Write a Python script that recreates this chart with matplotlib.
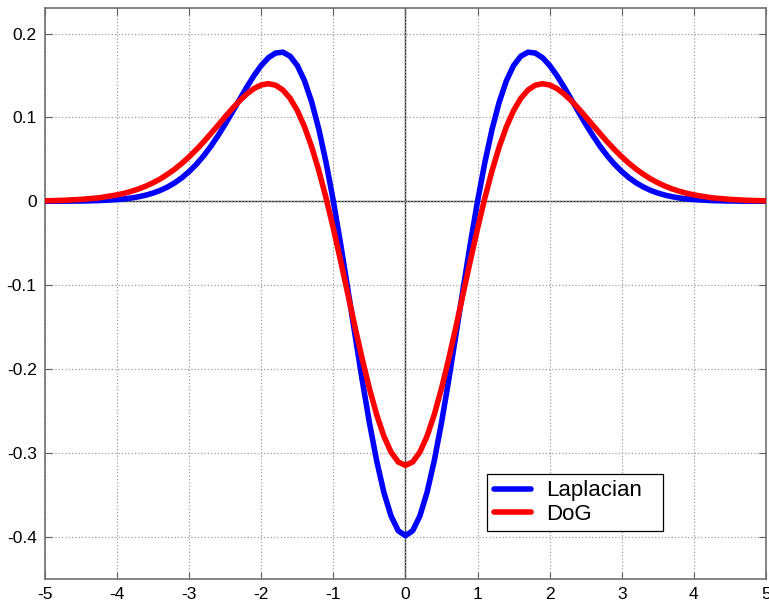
import matplotlib.pyplot as plt

# sample positions and curve values
x = [-5.0, -4.75, -4.5, -4.25, -4.0, -3.9, -3.8, -3.7, -3.6, -3.5, -3.4, -3.3,
     -3.2, -3.1, -3.0, -2.9, -2.8, -2.7, -2.6, -2.5, -2.4, -2.3, -2.2, -2.1,
     -2.0, -1.9, -1.8, -1.7, -1.6, -1.5, -1.4, -1.3, -1.2, -1.1, -1.0, -0.9,
     -0.8, -0.7, -0.6, -0.5, -0.4, -0.3, -0.2, -0.1, 0.0,
     0.1, 0.2, 0.3, 0.4, 0.5, 0.6, 0.7, 0.8, 0.9, 1.0, 1.1, 1.2, 1.3, 1.4,
     1.5, 1.6, 1.7, 1.8, 1.9, 2.0, 2.1, 2.2, 2.3, 2.4, 2.5, 2.6, 2.7, 2.8,
     2.9, 3.0, 3.1, 3.2, 3.3, 3.4, 3.5, 3.6, 3.7, 3.8, 3.9, 4.0, 4.25, 4.5,
     4.75, 5.0]

laplacian = [0.0000, 0.0001, 0.0003, 0.0008, 0.0020, 0.0028, 0.0039, 0.0054,
             0.0073, 0.0098, 0.0130, 0.0170, 0.0220, 0.0281, 0.0355, 0.0441,
             0.0541, 0.0655, 0.0782, 0.0920, 0.1066, 0.1215, 0.1362, 0.1500,
             0.1620, 0.1713, 0.1768, 0.1778, 0.1730, 0.1619, 0.1437, 0.1182,
             0.0854, 0.0457, 0.0000, -0.0506, -0.1043, -0.1592, -0.2133,
             -0.2641, -0.3093, -0.3471, -0.3754, -0.3930, -0.3989,
             -0.3930, -0.3754, -0.3471, -0.3093, -0.2641, -0.2133, -0.1592,
             -0.1043, -0.0506, 0.0000, 0.0457, 0.0854, 0.1182, 0.1437, 0.1619,
             0.1730, 0.1778, 0.1768, 0.1713, 0.1620, 0.1500, 0.1362, 0.1215,
             0.1066, 0.0920, 0.0782, 0.0655, 0.0541, 0.0441, 0.0355, 0.0281,
             0.0220, 0.0170, 0.0130, 0.0098, 0.0073, 0.0054, 0.0039, 0.0028,
             0.0020, 0.0008, 0.0003, 0.0001, 0.0000]

dog = [0.0005, 0.0011, 0.0022, 0.0041, 0.0076, 0.0095, 0.0119, 0.0147, 0.0181,
       0.0221, 0.0267, 0.0322, 0.0383, 0.0453, 0.0531, 0.0616, 0.0708, 0.0806,
       0.0906, 0.1008, 0.1107, 0.1199, 0.1280, 0.1345, 0.1387, 0.1402, 0.1384,
       0.1327, 0.1228, 0.1082, 0.0888, 0.0647, 0.0361, 0.0035, -0.0325,
       -0.0708, -0.1104, -0.1499, -0.1880, -0.2233, -0.2544, -0.2801,
       -0.2992, -0.3110, -0.3150,
       -0.3110, -0.2992, -0.2801, -0.2544, -0.2233, -0.1880, -0.1499,
       -0.1104, -0.0708, -0.0325, 0.0035, 0.0361, 0.0647, 0.0888, 0.1082,
       0.1228, 0.1327, 0.1384, 0.1402, 0.1387, 0.1345, 0.1280, 0.1199,
       0.1107, 0.1008, 0.0906, 0.0806, 0.0708, 0.0616, 0.0531, 0.0453,
       0.0383, 0.0322, 0.0267, 0.0221, 0.0181, 0.0147, 0.0119, 0.0095,
       0.0076, 0.0041, 0.0022, 0.0011, 0.0005]

xticks = [-5, -4, -3, -2, -1, 0, 1, 2, 3, 4, 5]
yticks = [-0.4, -0.3, -0.2, -0.1, 0, 0.1, 0.2]
ytick_labels = ['-0.4', '-0.3', '-0.2', '-0.1', '0', '0.1', '0.2']

plt.rcParams['font.family'] = ['Liberation Sans', 'DejaVu Sans']
plt.rcParams['axes.unicode_minus'] = False

fig = plt.figure(figsize=(7.69, 6.02), dpi=100)
ax = fig.add_axes([0.0585, 0.039, 0.9375, 0.947])

ax.grid(True, linestyle=':', color='#a0a0a0', linewidth=0.9)
ax.axhline(0, color='#303030', linewidth=1.0, zorder=1)
ax.axvline(0, color='#303030', linewidth=1.0, zorder=1)

ax.plot(x, laplacian, color='#0000ff', linewidth=4.0, label='Laplacian',
        solid_joinstyle='round', solid_capstyle='round', zorder=3)
ax.plot(x, dog, color='#ff0000', linewidth=4.0, label='DoG',
        solid_joinstyle='round', solid_capstyle='round', zorder=3)

ax.set_xlim(-5, 5)
ax.set_ylim(-0.45, 0.23)
ax.set_xticks(xticks)
ax.set_yticks(yticks)
ax.set_yticklabels(ytick_labels)
ax.tick_params(direction='in', length=5, top=True, right=True,
               labelsize=12.5, color='#606060', pad=6)
for s in ax.spines.values():
    s.set_color('#707070')
    s.set_linewidth(1.2)

leg = ax.legend(loc='lower left', bbox_to_anchor=(0.613, 0.083, 0.244, 0.1),
                mode='expand', fontsize=16, fancybox=False, framealpha=1,
                edgecolor='black', handlelength=1.7, handletextpad=0.65,
                borderpad=0.3, labelspacing=0.1, borderaxespad=0)
leg.get_frame().set_linewidth(0.9)

fig.savefig('out.png', dpi=100)
